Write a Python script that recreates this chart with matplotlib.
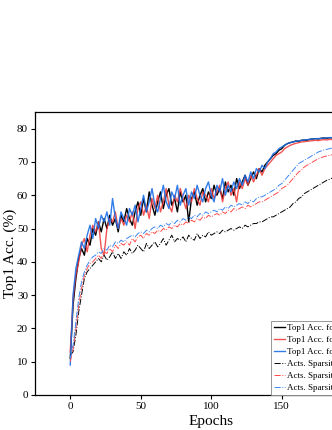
import numpy as np
import matplotlib
matplotlib.use("Agg")
import matplotlib.pyplot as plt

plt.rcParams['font.family'] = ['Liberation Serif', 'DejaVu Serif']

epochs = np.arange(0, 201, 2)

# Top1 accuracy (%)
acc_black = [11, 27, 35, 41, 44, 42, 47, 45, 50, 48,
             52, 49, 53, 50, 54, 51, 53, 49, 54, 52,
             56, 53, 51, 55, 58, 54, 59, 55, 61, 57,
             54, 58, 61, 56, 60, 62, 57, 59, 55, 61,
             58, 60, 52, 59, 61, 57, 60, 62, 58, 61,
             59, 63, 60, 62, 59, 64, 61, 63, 60, 65,
             62, 64, 66, 63, 65, 67, 65, 68, 67, 69,
             70, 71, 72, 72.5, 73.5, 74, 75, 75.5, 75.8, 76,
             76.3, 76.2, 76.5, 76.6, 76.5, 76.8, 76.9, 77, 76.9, 77.1,
             77.2, 77.1, 77.3, 77.2, 77.4, 77.3, 77.4, 77.5, 77.4, 77.5,
             77.5]
acc_red = [13, 29, 36, 40, 45, 47, 43, 48, 51, 49,
           52, 44, 42, 50, 53, 52, 55, 50, 53, 51,
           54, 52, 55, 50, 56, 58, 54, 57, 53, 59,
           56, 60, 55, 58, 62, 57, 55, 60, 58, 62,
           59, 56, 60, 58, 62, 59, 57, 61, 60, 58,
           62, 59, 61, 63, 58, 62, 64, 60, 62, 58,
           64, 62, 65, 63, 66, 64, 66, 68, 66, 68,
           69, 70, 71, 72, 72.5, 73, 74, 74.5, 75, 75.3,
           75.6, 75.8, 76, 76.1, 76.2, 76.3, 76.4, 76.5, 76.4, 76.6,
           76.7, 76.6, 76.8, 76.7, 76.9, 76.8, 77, 77, 76.9, 77.1,
           77.1]
acc_blue = [9, 30, 38, 42, 46, 44, 48, 51, 47, 53,
            50, 54, 52, 55, 51, 59, 53, 50, 55, 53,
            51, 56, 54, 57, 52, 56, 60, 55, 58, 62,
            57, 55, 59, 63, 58, 56, 61, 59, 63, 57,
            60, 62, 57, 61, 59, 63, 60, 58, 62, 64,
            60, 58, 63, 61, 65, 60, 63, 61, 64, 62,
            65, 63, 66, 64, 67, 65, 68, 67, 69, 68,
            70, 71, 72.5, 73, 74, 74.5, 75, 75.5, 75.8, 76,
            76.2, 76.3, 76.5, 76.6, 76.7, 76.8, 76.9, 77, 77, 77.1,
            77.2, 77.2, 77.3, 77.3, 77.4, 77.4, 77.5, 77.5, 77.5, 77.6,
            77.6]

# activation sparsity (%)
sp_black = [12, 13, 18, 25, 30, 35, 37, 38, 39, 40,
            41, 40, 42, 40.5, 41.5, 43, 41, 42.5, 41, 43,
            42, 44, 42.5, 43.5, 45, 44, 43, 45.5, 44, 45,
            46, 44.5, 45.5, 47, 45, 46.5, 48, 46, 47, 46.5,
            47.5, 46, 48, 47, 46.5, 48.5, 47, 48, 47.5, 49,
            48, 48.5, 49, 48.5, 49.5, 49, 49.5, 50, 49.5, 50,
            50.5, 50, 51, 50.5, 51, 51.5, 51.5, 52, 52, 52.5,
            53, 53.5, 53.5, 54, 54.5, 55, 55.5, 56, 56.5, 57.5,
            58, 59, 59.5, 60.5, 61, 61.5, 62, 62.5, 63, 63.5,
            64, 64.5, 64.8, 65.2, 65.5, 65.8, 66, 66.2, 66.4, 66.5,
            66.6]
sp_red = [10, 14, 20, 27, 32, 36, 38, 39.5, 40, 41,
          42, 41, 43, 42.5, 44, 43, 45, 44, 45.5, 45,
          46, 45, 47, 46, 47.5, 48, 47, 48.5, 48, 49,
          48.5, 49.5, 49, 50, 49.5, 50.5, 50, 51, 50.5, 51.5,
          51, 52, 51.5, 52.5, 52, 53, 52.5, 53.5, 53, 54,
          53.5, 54, 54.5, 54, 55, 54.5, 55.5, 55, 56, 55.5,
          56, 56.5, 56, 57, 56.5, 57, 57.5, 58, 58, 58.5,
          59, 59.5, 60, 60.5, 61, 62, 62.5, 63, 64, 65,
          66, 67, 67.5, 68.5, 69, 69.5, 70, 70.5, 71, 71.3,
          71.6, 71.8, 72, 72.2, 72.4, 72.6, 72.7, 72.8, 72.9, 73,
          73.1]
sp_blue = [11, 15, 22, 29, 34, 37, 39, 40.5, 41.5, 42,
           43, 42.5, 44, 43.5, 45, 44.5, 46, 45.5, 46.5, 46,
           47, 47.5, 48, 47.5, 48.5, 49, 48.5, 49.5, 49, 50,
           50.5, 50, 51, 50.5, 51.5, 51, 52, 51.5, 52.5, 52,
           53, 52.5, 53.5, 53, 54, 53.5, 54.5, 54, 55, 54.5,
           55, 55.5, 55, 56, 55.5, 56.5, 56, 57, 56.5, 57,
           57.5, 57, 58, 57.5, 58.5, 58, 59, 59.5, 59.5, 60,
           60.5, 61, 61.5, 62, 63, 63.5, 64.5, 65.5, 66.5, 67.5,
           68.5, 69.5, 70, 70.5, 71, 71.5, 72, 72.5, 73, 73.3,
           73.6, 73.8, 74, 74.2, 74.4, 74.6, 74.7, 74.8, 74.9, 75,
           75.1]

labels = ["Top1 Acc. for baseline", "Top1 Acc. for method A", "Top1 Acc. for method B",
          "Acts. Sparsity for baseline", "Acts. Sparsity for method A",
          "Acts. Sparsity for method B"]

fig = plt.figure(figsize=(3.32, 4.30), dpi=100)
# axes run past the right edge of the figure, as in the cropped original
ax = fig.add_axes([35 / 332, 35 / 430, 352.5 / 332, 283 / 430])

ax.plot(epochs, acc_black, color='black', lw=1.0, label=labels[0])
ax.plot(epochs, acc_red, color='#f03535', lw=1.0, alpha=0.85, label=labels[1])
ax.plot(epochs, acc_blue, color='#1a6ee6', lw=1.0, alpha=0.9, label=labels[2])
ax.plot(epochs, sp_black, color='black', lw=0.7, ls='-.', label=labels[3])
ax.plot(epochs, sp_red, color='#ff4a4a', lw=0.7, ls='-.', label=labels[4])
ax.plot(epochs, sp_blue, color='#3d86f0', lw=0.7, ls='-.', label=labels[5])

ax.set_xlim(-25, 225)
ax.set_ylim(0, 85)
ax.set_xticks([0, 50, 100, 150, 200])
ax.set_yticks(range(0, 81, 10))
ax.tick_params(direction='out', length=3, width=0.8, labelsize=8, pad=2)
ax.set_xlabel("Epochs", fontsize=11)
ax.set_ylabel("Top1 Acc. (%)", fontsize=11)
ax.xaxis.set_label_coords(0.5, -0.07)
ax.yaxis.set_label_coords(-0.05, 0.5)
for s in ax.spines.values():
    s.set_linewidth(0.9)

leg = ax.legend(loc='lower left', bbox_to_anchor=((271 - 35) / 352.5, 0),
                borderaxespad=0, fontsize=6.5, handlelength=1.2, handletextpad=0.2,
                labelspacing=0.4, borderpad=0.35, fancybox=False, framealpha=1)
leg.get_frame().set_edgecolor('#888888')
leg.get_frame().set_linewidth(0.6)

fig.savefig("out.png", dpi=100)
